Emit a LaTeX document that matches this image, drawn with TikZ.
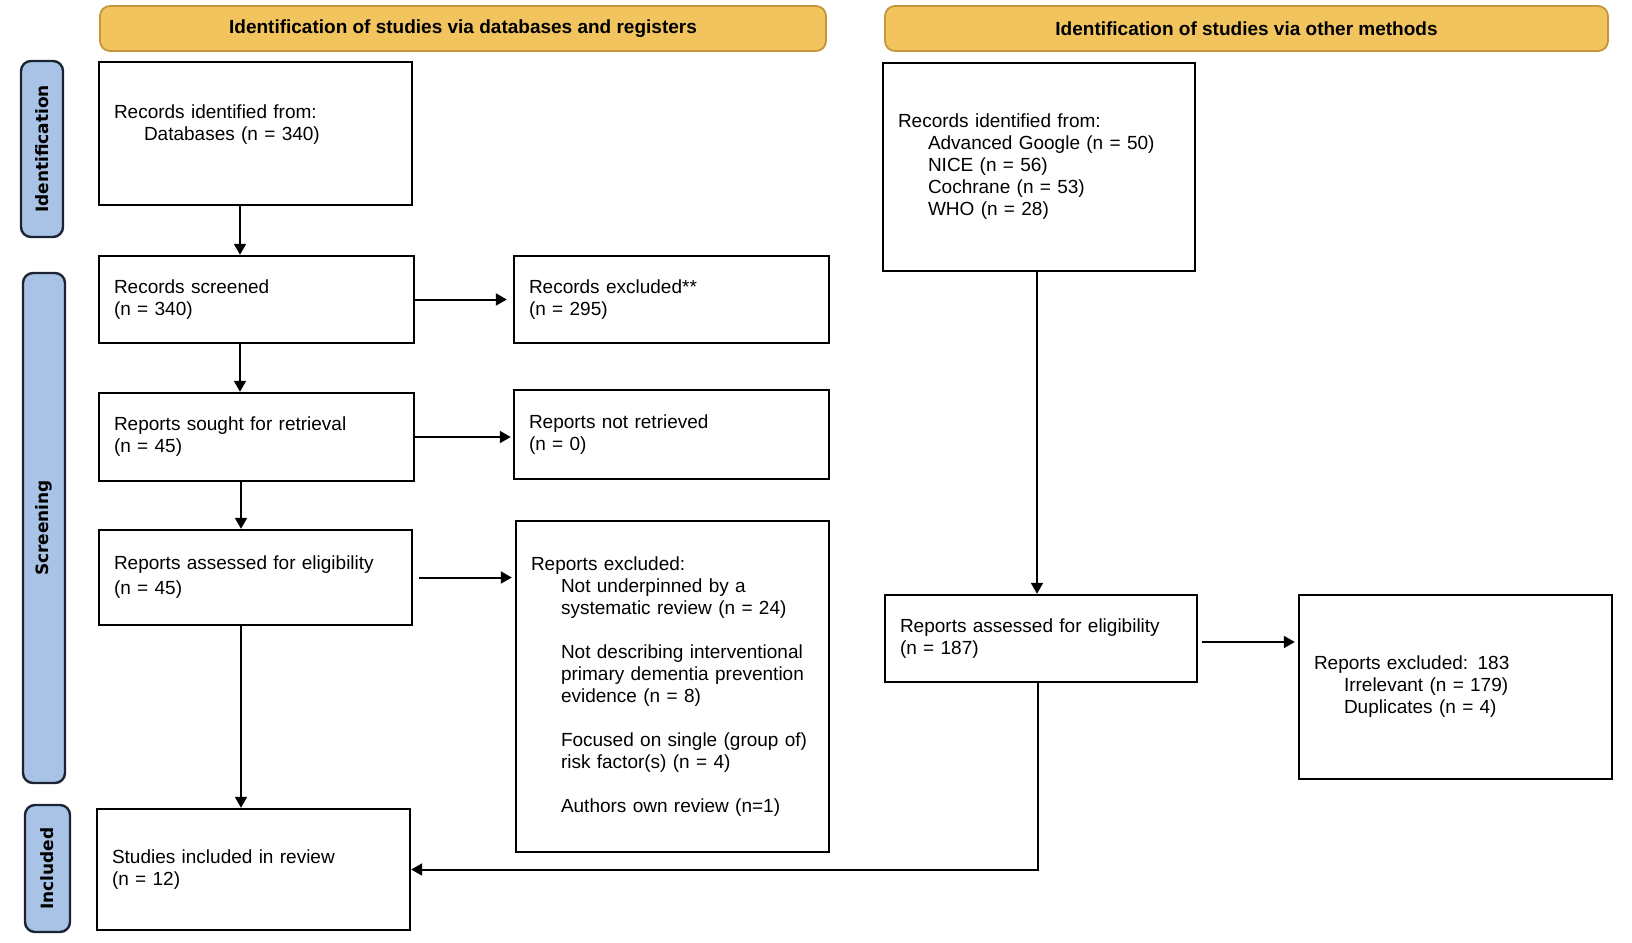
\documentclass[tikz,border=0pt]{standalone}
\usepackage{fontspec}
\setmainfont{Liberation Sans}
\newfontfamily\sidefont{DejaVu Sans}
\usetikzlibrary{arrows.meta}

\definecolor{hdrfill}{RGB}{241,196,94}
\definecolor{hdredge}{RGB}{196,150,58}
\definecolor{phasefill}{RGB}{168,195,230}
\definecolor{phaseedge}{RGB}{28,36,52}

\tikzset{
  box/.style={draw, line width=1.2pt, align=left, inner xsep=7.5pt, inner ysep=0pt, font=\fontsize{9.5}{11}\selectfont},
  stage/.style={draw=hdredge, fill=hdrfill, rounded corners=5pt, line width=0.9pt, minimum height=22.5pt, font=\fontsize{9.5}{11}\selectfont\bfseries},
  phase/.style={draw=phaseedge, fill=phasefill, rounded corners=5pt, line width=1.2pt, rotate=90, minimum height=21pt, inner sep=0pt, font=\sidefont\fontsize{8.5}{10}\selectfont\bfseries},
  arr/.style={-{Triangle[length=5.5pt,width=6pt]}, line width=1pt},
}
\newcommand{\ind}{\hspace*{15pt}}

\begin{document}
\begin{tikzpicture}[x=0.5pt, y=-0.5pt]
\useasboundingbox (0,0) rectangle (1632,942);
% headers
\node[stage, minimum width=363pt] (dbhead)at(463, 28.5) {Identification of studies via databases and registers};
\node[stage, minimum width=361.5pt] (otherhead)at(1246.5, 28.5) {Identification of studies via other methods};
% phases
\node[phase, minimum width=88pt] (ident)at(42, 149) {Identification};
\node[phase, minimum width=255pt] (screen)at(44, 528) {Screening};
\node[phase, minimum width=63.5pt, minimum height=22.5pt] (incl)at(47.5, 868.5) {Included};
% databases and registers
\node[box, text width=141.5pt, minimum height=71.5pt] (dbrec)at(255.5, 133.5) {Records identified from:\\\ind Databases (n = 340)\\\mbox{}};
\node[box, text width=142.5pt, minimum height=43.5pt] (screened)at(256.5, 299.5) {Records screened\\(n = 340)};
\node[box, text width=142.5pt, minimum height=43.5pt] (recexcl)at(671.5, 299.5) {Records excluded**\\(n = 295)};
\node[box, text width=142.5pt, minimum height=44pt] (sought)at(256.5, 437) {Reports sought for retrieval\\(n = 45)};
\node[box, text width=142.5pt, minimum height=44.5pt] (notret)at(671.5, 434.5) {Reports not retrieved\\(n = 0)};
\node[box, text width=141.5pt, minimum height=47.5pt] (assessed)at(255.5, 577.5) {Reports assessed for eligibility\\[1.5pt](n = 45)};
\node[box, text width=141.5pt, minimum height=165.5pt] (repexcl)at(672.5, 686.5) {Reports excluded:\\
  \ind Not underpinned by a\\
  \ind systematic review (n = 24)\\[11pt]
  \ind Not describing interventional\\
  \ind primary dementia prevention\\
  \ind evidence (n = 8)\\[11pt]
  \ind Focused on single (group of)\\
  \ind risk factor(s) (n = 4)\\[11pt]
  \ind Authors own review (n=1)};
\node[box, text width=141.5pt, minimum height=60.5pt] (included)at(253.5, 869.5) {Studies included in review\\(n = 12)};
% other methods
\node[box, text width=141pt, minimum height=104pt] (otherrec)at(1039, 167) {Records identified from:\\
  \ind Advanced Google (n = 50)\\
  \ind NICE (n = 56)\\
  \ind Cochrane (n = 53)\\
  \ind WHO (n = 28)};
\node[box, text width=141pt, minimum height=43.5pt] (otherass)at(1041, 638.5) {Reports assessed for eligibility\\(n = 187)};
\node[box, text width=141.5pt, minimum height=92pt] (otherexcl)at(1455.5, 687) {Reports excluded: 183\\
  \ind Irrelevant (n = 179)\\
  \ind Duplicates (n = 4)};
% arrows
\draw[arr] ([xshift=-7.75pt]dbrec.south) -- ([xshift=-7.75pt]dbrec.south |- screened.north);
\draw[arr, shorten >=3pt] (screened.east) -- (screened.east -| recexcl.west);
\draw[arr] ([xshift=-8.25pt]screened.south) -- ([xshift=-8.25pt]screened.south |- sought.north);
\draw[arr, shorten >=1pt] (sought.east) -- (sought.east -| notret.west);
\draw[arr] ([xshift=-7.75pt]sought.south) -- ([xshift=-7.75pt]sought.south |- assessed.north);
\draw[arr, shorten <=3pt, shorten >=1.5pt] (assessed.east) -- (assessed.east -| repexcl.west);
\draw[arr] ([xshift=-7.25pt]assessed.south) -- ([xshift=-7.25pt]assessed.south |- included.north);
\draw[arr] ([xshift=-1pt]otherrec.south) -- ([xshift=-1pt]otherrec.south |- otherass.north);
\draw[arr, shorten <=2pt, shorten >=1.5pt] ([yshift=-1.75pt]otherass.east) -- ([yshift=-1.75pt]otherass.east -| otherexcl.west);
\draw[arr] ([xshift=-1.5pt]otherass.south) |- (included.east);
\end{tikzpicture}
\end{document}
